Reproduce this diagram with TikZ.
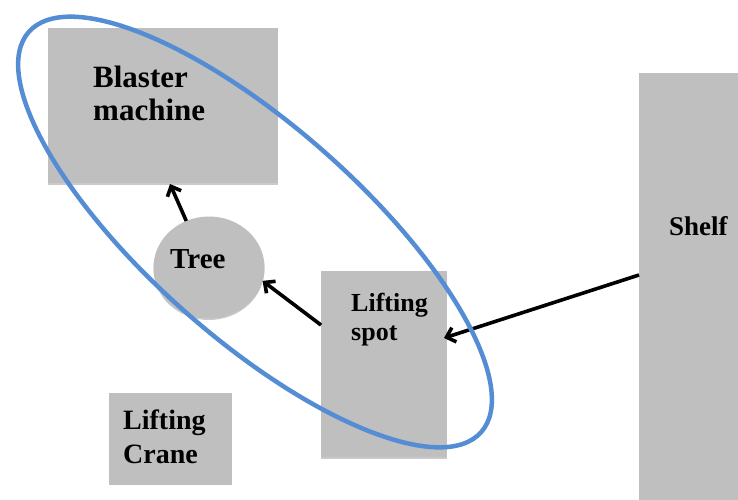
\documentclass[tikz,border=0pt]{standalone}
\usepackage{fontspec}
\setmainfont{Liberation Serif}
\usetikzlibrary{arrows.meta,shadows,shapes.geometric}
\definecolor{boxgray}{RGB}{191,191,191}
\definecolor{ringblue}{RGB}{84,141,212}
\begin{document}
\begin{tikzpicture}[x=1pt,y=-1pt,
  box/.style={fill=boxgray, draw=none, inner sep=0pt, outer sep=0pt, anchor=north west,
    drop shadow={shadow xshift=0pt, shadow yshift=-1.5pt, opacity=0.35, fill=black!60}},
  plainbox/.style={fill=boxgray, draw=none, inner sep=0pt, outer sep=0pt, anchor=north west},
  lbl/.style={font=\bfseries\fontsize{#1}{#1}\selectfont, inner sep=0pt, anchor=base west, text=black},
  conn/.style={draw=black, line width=3.6pt, -{Straight Barb[length=8pt,width=15pt,line width=3.6pt]}},
  ring/.style={draw=ringblue, line width=4.5pt}]
\useasboundingbox (0,0) rectangle (738,499);
% boxes
\node[box, minimum width=230pt, minimum height=155pt] (blaster) at (48,28) {};
\node[box, minimum width=126pt, minimum height=186pt] (spot) at (321,271) {};
\node[plainbox, minimum width=123pt, minimum height=92pt] (crane) at (109,393) {};
\node[plainbox, minimum width=110pt, minimum height=440pt] (shelf) at (639,73) {};
\node[ellipse, fill=boxgray, inner sep=0pt, outer sep=0pt, minimum width=111pt, minimum height=102pt,
  drop shadow={shadow xshift=0pt, shadow yshift=-1.5pt, opacity=0.35, fill=black!60}] (tree) at (209,267.5) {};
% labels
\node[lbl=31] (blasterA) at (93,87) {Blaster};
\node[lbl=31] (blasterB) at (93,120) {machine};
\node[lbl=29] (treelbl) at (170,268) {Tree};
\node[lbl=26] (spotA) at (351,311) {Lifting};
\node[lbl=26] (spotB) at (351,340) {spot};
\node[lbl=28] (cranelbl) at (123,429) {Lifting};
\node[lbl=28] (cranelbl2) at (123,463) {Crane};
\node[lbl=27] (shelflbl) at (669,235) {Shelf};
% connectors
\draw[conn] (tree.116) -- ([xshift=7pt,yshift=-1pt]blaster.south);
\draw[conn] ([yshift=39pt]spot.west) -- (tree.-14);
\draw[conn] ([yshift=18pt]shelf.west) -- ([yshift=26pt,xshift=-3pt]spot.east);
% ellipse
\draw[ring, rotate around={-41.5:(255,232)}] (255,232) ellipse [x radius=302, y radius=106];
\end{tikzpicture}
\end{document}
